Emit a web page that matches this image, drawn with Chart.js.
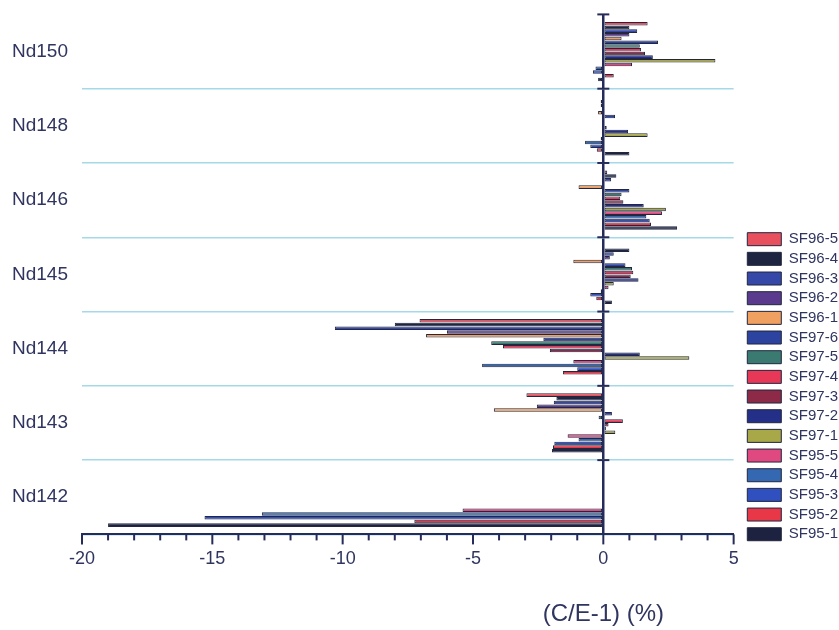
<!DOCTYPE html>
<html>
<head>
<meta charset="utf-8">
<script src="https://cdn.jsdelivr.net/npm/chart.js@4/dist/chart.umd.min.js"></script>
<style>
  html, body { margin: 0; padding: 0; background: #ffffff; }
  #wrap { width: 839px; height: 630px; position: relative; }
</style>
</head>
<body>
<div id="wrap"><canvas id="c"></canvas></div>
<script>
// Categories (top to bottom)
const categories = ['Nd150', 'Nd148', 'Nd146', 'Nd145', 'Nd144', 'Nd143', 'Nd142'];

// Series values, (C/E-1) in %, per category in the order above
const sf96_5 = [1.7, 0, 0.15, 0, -7.05, -2.95, null];
const sf96_4 = [1.0, -0.1, 0.5, 1.0, -8.0, -1.8, null];
const sf96_3 = [1.3, -0.1, 0.3, 0.4, -10.3, -1.9, null];
const sf96_2 = [1.0, 0, 0, 0.25, -6.0, -2.55, null];
const sf96_1 = [0.7, -0.2, -0.95, -1.15, -6.8, -4.2, null];
const sf97_6 = [2.1, 0.45, 1.0, 0.85, -2.3, 0.33, null];
const sf97_5 = [1.4, 0, 0.7, 1.1, -4.3, -0.18, null];
const sf97_4 = [1.45, 0, 0.65, 1.15, -3.85, 0.75, null];
const sf97_3 = [1.6, 0.13, 0.77, 1.05, -2.05, 0.2, null];
const sf97_2 = [1.9, 0.95, 1.55, 1.35, 1.4, 0.1, null];
const sf97_1 = [4.3, 1.7, 2.4, 0.4, 3.3, 0.46, null];
const sf95_5 = [1.1, -0.1, 2.25, 0.2, -1.15, -1.37, -5.4];
const sf95_4 = [-0.3, -0.7, 1.65, -0.1, -4.65, -0.95, -13.1];
const sf95_3 = [-0.4, -0.5, 1.78, -0.5, -1.0, -1.88, -15.3];
const sf95_2 = [0.4, -0.25, 1.83, -0.27, -1.55, -1.93, -7.25];
const sf95_1 = [-0.2, 1.0, 2.83, 0.33, 0, -1.97, -19.0];

const seriesNames = ['SF96-5','SF96-4','SF96-3','SF96-2','SF96-1','SF97-6','SF97-5','SF97-4','SF97-3','SF97-2','SF97-1','SF95-5','SF95-4','SF95-3','SF95-2','SF95-1'];
const seriesValues = [sf96_5, sf96_4, sf96_3, sf96_2, sf96_1, sf97_6, sf97_5, sf97_4, sf97_3, sf97_2, sf97_1, sf95_5, sf95_4, sf95_3, sf95_2, sf95_1];
const seriesColors = ['#e8505e','#1e2540','#3548a8','#5a3a8c','#f0a060','#2c44a0','#3a7a70','#e83858','#8c2a48','#243088','#a8a848','#e04880','#3468b0','#3050c0','#e83848','#1c2240'];

const xTickLabels = [-20, -15, -10, -5, 0, 5];
const axisTitle = '(C/E-1) (%)';

const NAVY = '#262c5a';
const TEXT = '#2f355f';

const datasets = seriesNames.map((n, i) => ({
  label: n,
  data: seriesValues[i],
  backgroundColor: seriesColors[i],
  borderColor: '#22273f',
  borderWidth: 1,
  borderSkipped: false,
  barPercentage: 0.95,
  categoryPercentage: 0.8
}));

const legendPlacePlugin = {
  id: 'legendPlace',
  afterLayout(chart) {
    const lg = chart.legend;
    if (!lg) return;
    lg.bottom = chart.chartArea.bottom + 12;
    lg.left += 9;
    lg.right += 9;
  }
};

const decorPlugin = {
  id: 'decor',
  afterDraw(chart) {
    const ctx = chart.ctx;
    const xs = chart.scales.x, ys = chart.scales.y;
    const x0 = xs.getPixelForValue(0);
    ctx.save();
    ctx.strokeStyle = NAVY;
    ctx.lineWidth = 2;
    xs.ticks.forEach((t, i) => {
      const px = xs.getPixelForTick(i);
      const major = xTickLabels.includes(t.value);
      ctx.beginPath();
      ctx.moveTo(px, xs.top);
      ctx.lineTo(px, xs.top + (major ? 10 : 6));
      ctx.stroke();
    });
    const n = categories.length;
    const band = (ys.bottom - ys.top) / n;
    for (let k = 0; k < n; k++) {
      const py = ys.top + k * band;
      ctx.beginPath();
      ctx.moveTo(x0 - 6, py);
      ctx.lineTo(x0 + 6, py);
      ctx.stroke();
    }
    ctx.fillStyle = TEXT;
    ctx.font = '24px "Liberation Sans", Arial, sans-serif';
    ctx.textAlign = 'center';
    ctx.textBaseline = 'middle';
    ctx.fillText(axisTitle, x0, xs.bottom + 40);
    ctx.restore();
  }
};

new Chart(document.getElementById('c'), {
  type: 'bar',
  data: { labels: categories, datasets },
  options: {
    indexAxis: 'y',
    responsive: true,
    maintainAspectRatio: false,
    animation: false,
    layout: { padding: { left: 12, top: 13, right: 0, bottom: 56 } },
    plugins: {
      legend: {
        position: 'right',
        align: 'end',
        labels: {
          boxWidth: 34,
          boxHeight: 13,
          padding: 4.67,
          color: TEXT,
          font: { family: '"Liberation Sans", Arial, sans-serif', size: 15 }
        }
      },
      tooltip: { enabled: false }
    },
    scales: {
      x: {
        type: 'linear',
        min: -20,
        max: 5,
        ticks: {
          stepSize: 1,
          autoSkip: false,
          maxRotation: 0,
          padding: 4,
          color: TEXT,
          font: { family: '"Liberation Sans", Arial, sans-serif', size: 18 },
          callback: (v) => xTickLabels.includes(v) ? String(v) : ''
        },
        grid: {
          color: (c) => (c.tick && c.tick.value === 0) ? NAVY : 'rgba(0,0,0,0)',
          lineWidth: (c) => (c.tick && c.tick.value === 0) ? 2.5 : 0,
          tickColor: 'rgba(0,0,0,0)',
          tickLength: 10
        },
        border: { display: true, color: NAVY, width: 2 }
      },
      y: {
        type: 'category',
        afterFit: (s) => { s.width = 70; },
        ticks: {
          crossAlign: 'far',
          color: TEXT,
          font: { family: '"Liberation Sans", Arial, sans-serif', size: 19 }
        },
        grid: {
          offset: true,
          color: (c) => c.index === 0 ? 'rgba(0,0,0,0)' : '#a6d9e8',
          lineWidth: 1.5,
          drawTicks: false
        },
        border: { display: false }
      }
    }
  },
  plugins: [legendPlacePlugin, decorPlugin]
});
</script>
</body>
</html>
